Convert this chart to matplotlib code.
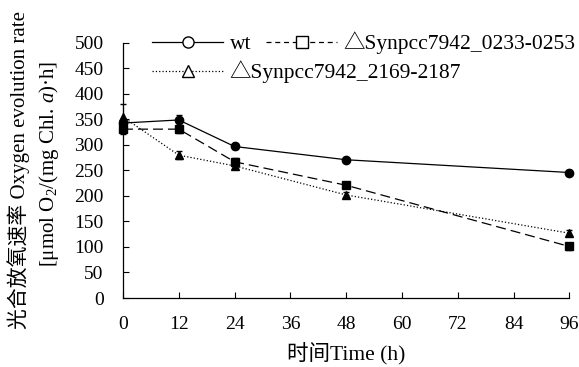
import matplotlib
matplotlib.use("Agg")
import matplotlib.pyplot as plt
from matplotlib.lines import Line2D

plt.rcParams['font.family'] = ['Liberation Serif', 'Noto Sans CJK SC', 'DejaVu Sans']
plt.rcParams['mathtext.fontset'] = 'custom'
plt.rcParams['mathtext.rm'] = 'Liberation Serif'
plt.rcParams['mathtext.it'] = 'Liberation Serif:italic'
plt.rcParams['font.size'] = 14

# 数据
hours = [0, 12, 24, 48, 96]
wt = [343, 349, 297, 271, 246]
wt_err = [8, 10, 5, 4, 4]
d0233 = [331, 331, 267, 221, 101]
d0233_err = [10, 8, 8, 6, 6]
d2169 = [355, 280, 259, 202, 127]
d2169_err = [25, 8, 6, 5, 6]

labels = ["wt", "△Synpcc7942_0233-0253", "△Synpcc7942_2169-2187"]
xticks = [0, 12, 24, 36, 48, 60, 72, 84, 96]
yticks = list(range(0, 501, 50))

fig = plt.figure(figsize=(5.79, 3.67), dpi=100)
ax = fig.add_axes([0.2124, 0.188, 0.771, 0.695])

common = dict(color='black', markersize=6, lw=0.9, capsize=2.5, elinewidth=0.8,
              clip_on=False, zorder=3)
ax.errorbar(hours, wt, yerr=wt_err, fmt='-o', **common)
ax.errorbar(hours, d0233, yerr=d0233_err, fmt='--s', dashes=(8, 4), **common)
ax.errorbar(hours, d2169, yerr=d2169_err, fmt=':^', **common)

ax.set_xlim(0, 96)
ax.set_ylim(0, 500)
ax.set_xticks(xticks)
ax.set_yticks(yticks)
ax.tick_params(direction='in', length=4, width=0.8)
ax.tick_params(axis='y', pad=14)
ax.tick_params(axis='x', pad=13)
for s in ['top', 'right']:
    ax.spines[s].set_visible(False)
for s in ['left', 'bottom']:
    ax.spines[s].set_linewidth(0.9)

ax.set_xlabel("时间Time (h)", fontsize=15.5, labelpad=7)
fig.text(0.032, 0.537, "光合放氧速率 Oxygen evolution rate", rotation=90,
         ha='center', va='center', fontsize=15)
fig.text(0.084, 0.553, r"[μmol O$_2$/(mg Chl. $\it{a}$)·h]", rotation=90,
         ha='center', va='center', fontsize=15)

# 图例
h_wt = Line2D([], [], color='black', lw=0.9, marker='o', markersize=8,
              markerfacecolor='white')
h_sq = Line2D([], [], color='black', lw=0.9, ls='--', dashes=(4, 3), marker='s',
              markersize=8, markerfacecolor='white')
h_tr = Line2D([], [], color='black', lw=0.9, ls=':', marker='^', markersize=8,
              markerfacecolor='white')
fig.legend([h_wt, h_sq], labels[:2], ncol=2, loc='center left',
           bbox_to_anchor=(152 / 579, 1 - 43 / 367), frameon=False,
           fontsize=15.5, borderpad=0, borderaxespad=0, handlelength=3.3,
           handletextpad=0.3, columnspacing=0.7)
fig.legend([h_tr], labels[2:], loc='center left',
           bbox_to_anchor=(152 / 579, 1 - 72 / 367), frameon=False,
           fontsize=15.5, borderpad=0, borderaxespad=0, handlelength=3.3,
           handletextpad=0.3)

fig.savefig("out.png", dpi=100)
